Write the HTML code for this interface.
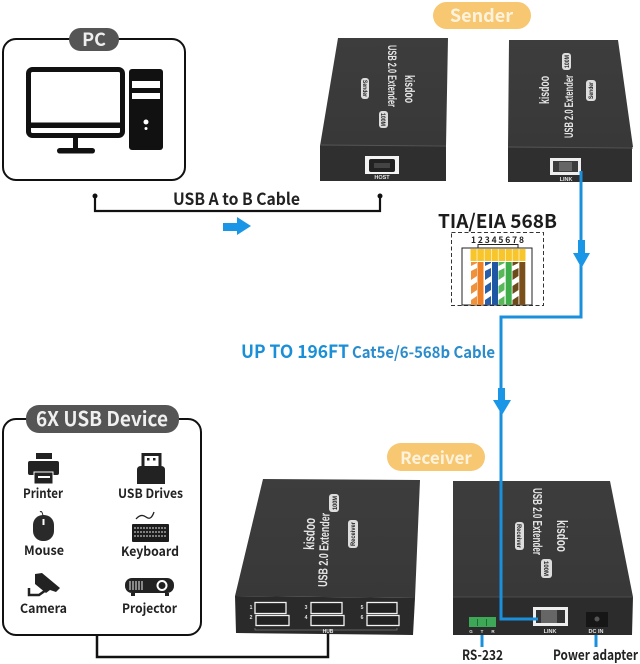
<!DOCTYPE html>
<html><head><meta charset="utf-8"><style>
html,body{margin:0;padding:0;background:#fff}
svg{display:block}
text{font-family:"Noto Sans CJK SC","Liberation Sans",sans-serif;font-weight:700}
.l{font-family:"Liberation Sans",sans-serif;fill:#e6e6e6}
.t{font-family:"Liberation Sans",sans-serif;fill:#222;font-size:6px}
.lab{fill:#222;font-size:13px;text-anchor:middle}
</style></head><body>
<svg width="640" height="664" viewBox="0 0 640 664" xmlns="http://www.w3.org/2000/svg">
<defs>
<linearGradient id="top" x1="0" y1="0" x2="0" y2="1"><stop offset="0" stop-color="#3d3d3d"/><stop offset="1" stop-color="#383838"/></linearGradient>
</defs>
<rect width="640" height="664" fill="#fff"/>

<!-- PC panel -->
<rect x="3" y="39" width="182" height="141" rx="13" fill="#fff" stroke="#111" stroke-width="2"/>
<rect x="69" y="28" width="50" height="23" rx="11.5" fill="#555"/>
<text x="94" y="46" font-size="18" fill="#eee" text-anchor="middle">PC</text>
<rect x="28.500" y="69.500" width="94" height="66" rx="4" fill="#fff" stroke="#111" stroke-width="5"/>
<rect x="29" y="122.500" width="92" height="5.500" fill="#111"/>
<rect x="73" y="137" width="5" height="12" fill="#111"/>
<rect x="57" y="148" width="38" height="5.500" rx="2.700" fill="#111"/>
<rect x="129" y="69" width="34" height="81" rx="3" fill="#111"/>
<rect x="132" y="81" width="28" height="7" fill="#fff"/>
<rect x="132" y="93" width="28" height="6" fill="#fff"/>
<circle cx="146" cy="122" r="2.500" fill="#fff"/>
<circle cx="146" cy="128.500" r="1.500" fill="#fff"/>

<!-- USB A to B cable -->
<circle cx="95" cy="196" r="2.500" fill="#111"/>
<circle cx="380" cy="196" r="2.500" fill="#111"/>
<path d="M95 196V211H380V196" fill="none" stroke="#111" stroke-width="2.200"/>
<text x="173" y="205" font-size="16.500" fill="#222" textLength="127" lengthAdjust="spacingAndGlyphs">USB A to B Cable</text>
<path d="M223 223H237V217L251 226L237 235V231H223Z" fill="#1a96e6"/>

<!-- Sender pill -->
<rect x="433" y="2" width="98" height="27" rx="13.500" fill="#f7c772"/>
<text x="481.500" y="22" font-size="18" fill="#fdf3dd" text-anchor="middle">Sender</text>

<!-- Sender box 1 -->
<path d="M338 38H448L446 146H320Z" fill="url(#top)"/>
<path d="M320 145H446V181H320Z" fill="#2f2f2f"/>
<line x1="320" y1="145" x2="446" y2="146" stroke="#555" stroke-width="1"/>
<text class="l" transform="translate(388,45) rotate(90)" font-size="12" textLength="62" lengthAdjust="spacingAndGlyphs">USB 2.0 Extender</text>
<text class="l" transform="translate(405,75) rotate(90)" font-size="14" textLength="28" lengthAdjust="spacingAndGlyphs">kisdoo</text>
<rect x="361" y="78" width="8" height="21" rx="3" fill="#ddd"/>
<text class="t" transform="translate(363,80) rotate(90)" textLength="17" lengthAdjust="spacingAndGlyphs">Sender</text>
<rect x="379" y="111" width="9" height="17" rx="3" fill="#ddd"/>
<text class="t" transform="translate(381,113) rotate(90)" textLength="13" lengthAdjust="spacingAndGlyphs">100M</text>
<rect x="365" y="156" width="34" height="18" fill="#f4f4f4"/>
<rect x="369" y="159" width="26" height="13" rx="2" fill="#222"/>
<rect x="374" y="163" width="16" height="5" fill="#444"/>
<text class="l" x="382" y="179" font-size="5.500" text-anchor="middle">HOST</text>

<!-- Sender box 2 -->
<path d="M509 40H618L633 147H508Z" fill="url(#top)"/>
<path d="M508 147H632V182H508Z" fill="#2f2f2f"/>
<line x1="508" y1="147" x2="633" y2="148" stroke="#555" stroke-width="1"/>
<text class="l" transform="translate(573,138) rotate(-90)" font-size="12" textLength="63" lengthAdjust="spacingAndGlyphs">USB 2.0 Extender</text>
<text class="l" transform="translate(549,104) rotate(-90)" font-size="14" textLength="28" lengthAdjust="spacingAndGlyphs">kisdoo</text>
<rect x="562" y="53" width="9" height="17" rx="3" fill="#ddd"/>
<text class="t" transform="translate(569,68) rotate(-90)" textLength="13" lengthAdjust="spacingAndGlyphs">100M</text>
<rect x="586" y="80" width="10" height="21" rx="3" fill="#ddd"/>
<text class="t" transform="translate(593,99) rotate(-90)" textLength="17" lengthAdjust="spacingAndGlyphs">Sender</text>
<rect x="550" y="158" width="31" height="17" fill="#eee"/>
<rect x="553" y="161" width="25" height="11" fill="#3c3c3c"/>
<rect x="559" y="162" width="13" height="9" fill="#666"/>
<text class="l" x="566" y="181" font-size="5.500" text-anchor="middle">LINK</text>

<!-- Blue cable -->
<path d="M581 171V317H501V470" fill="none" stroke="#1a90dc" stroke-width="3"/>
<path d="M573 253H590L581.500 268Z" fill="#1a96e6"/>
<rect x="578" y="240" width="7" height="14" fill="#1a96e6"/>
<path d="M493 400H511L502 415Z" fill="#1a96e6"/>
<rect x="498" y="388" width="7" height="13" fill="#1a96e6"/>

<!-- TIA -->
<text x="438" y="228" font-size="19" fill="#1c1c1c" textLength="119" lengthAdjust="spacingAndGlyphs">TIA/EIA 568B</text>
<rect x="451.500" y="232.500" width="92" height="73" fill="none" stroke="#333" stroke-width="1" stroke-dasharray="4 2.500"/>
<text x="471" y="243" font-size="8.500" fill="#222" textLength="53">12345678</text>
<path d="M478 248V244.500H518V248" fill="none" stroke="#222" stroke-width="1"/>
<rect x="462" y="248" width="70" height="57" fill="#fff" stroke="#222" stroke-width="1"/>
<g fill="#f8c62b">
<rect x="470.500" y="249" width="6.200" height="12"/><rect x="477.300" y="249" width="6.600" height="12"/><rect x="484.500" y="249" width="6.600" height="12"/><rect x="491.700" y="249" width="6.200" height="12"/><rect x="498.500" y="249" width="6.600" height="12"/><rect x="505.700" y="249" width="6.200" height="12"/><rect x="512.500" y="249" width="6.200" height="12"/><rect x="519.300" y="249" width="6.200" height="12"/>
</g>
<rect x="471" y="262" width="6" height="43" fill="#f0913b"/>
<path d="M471 266l6-3v5l-6 3zM471 280l6-4v6l-6 4zM471 294l6-4v6l-6 4z" fill="#fff"/>
<rect x="477.500" y="262" width="6" height="43" fill="#ef7f24"/>
<rect x="485" y="262" width="6" height="43" fill="#2a5ea8"/>
<path d="M485 266l6-3v5l-6 3zM485 280l6-4v6l-6 4zM485 294l6-4v6l-6 4z" fill="#fff"/>
<rect x="492" y="262" width="6" height="43" fill="#1f57a5"/>
<rect x="498.500" y="262" width="6" height="43" fill="#59b85a"/>
<path d="M498.500 266l6-3v5l-6 3zM498.500 280l6-4v6l-6 4zM498.500 294l6-4v6l-6 4z" fill="#fff"/>
<rect x="505.700" y="262" width="6" height="43" fill="#3fae4a"/>
<rect x="512.500" y="262" width="6" height="43" fill="#6b4a1c"/>
<path d="M512.500 266l6-3v5l-6 3zM512.500 280l6-4v6l-6 4zM512.500 294l6-4v6l-6 4z" fill="#fff"/>
<rect x="519.300" y="262" width="6" height="43" fill="#7a4f1a"/>

<!-- UP TO label -->
<text x="241" y="358" font-size="18" fill="#1a8fd8" textLength="108" lengthAdjust="spacingAndGlyphs">UP TO 196FT</text>
<text x="352" y="358" font-size="16" fill="#2a8ccc" textLength="143" lengthAdjust="spacingAndGlyphs">Cat5e/6-568b Cable</text>

<!-- Device panel -->
<rect x="3" y="419" width="198" height="216" rx="13" fill="#fff" stroke="#111" stroke-width="2"/>
<rect x="26" y="405" width="153" height="28" rx="13" fill="#555"/>
<text x="36" y="426" font-size="20" fill="#f0f0f0" textLength="132" lengthAdjust="spacingAndGlyphs">6X USB Device</text>

<!-- printer -->
<rect x="36" y="453" width="16" height="6" fill="#222"/>
<rect x="28" y="461" width="31" height="14" rx="2" fill="#222"/>
<rect x="34" y="472" width="19" height="12" fill="#222" stroke="#fff" stroke-width="1"/>
<rect x="38" y="476" width="12" height="2" fill="#fff"/>
<text class="lab" x="23" y="498" style="text-anchor:start" textLength="40" lengthAdjust="spacingAndGlyphs">Printer</text>
<!-- usb drive -->
<rect x="143" y="454.500" width="17" height="13" fill="#fff" stroke="#222" stroke-width="3"/>
<rect x="147" y="458" width="2.500" height="2.500" fill="#222"/><rect x="153" y="458" width="2.500" height="2.500" fill="#222"/>
<path d="M137 470Q137 466 141 466H161Q165 466 165 470V484H137Z" fill="#222"/>
<text class="lab" x="118" y="498" style="text-anchor:start" textLength="65" lengthAdjust="spacingAndGlyphs">USB Drives</text>
<!-- mouse -->
<path d="M40 512Q42 510 43 516" fill="none" stroke="#222" stroke-width="1"/>
<rect x="33" y="515" width="21" height="26" rx="10" fill="#2a2a2a"/>
<rect x="42.500" y="519" width="2" height="6" fill="#fff"/>
<text class="lab" x="24" y="555" style="text-anchor:start" textLength="40" lengthAdjust="spacingAndGlyphs">Mouse</text>
<!-- keyboard -->
<path d="M136 519Q141 513 146 517T154 512" fill="none" stroke="#222" stroke-width="1.300"/>
<rect x="132" y="524" width="37" height="18" rx="1" fill="#1c1c1c"/>
<path d="M134 528H167M134 532H167M134 536H167" stroke="#bbb" stroke-width="1.300" stroke-dasharray="2 1"/>
<text class="lab" x="121" y="556" style="text-anchor:start" textLength="58" lengthAdjust="spacingAndGlyphs">Keyboard</text>
<!-- camera -->
<path d="M35 574L42 573L60 588L56 592L50 590L46 593L35 584Z" fill="#222"/>
<path d="M29 588V595H39L46 590" fill="none" stroke="#222" stroke-width="2.500"/>
<text class="lab" x="20" y="613" style="text-anchor:start" textLength="47" lengthAdjust="spacingAndGlyphs">Camera</text>
<!-- projector -->
<rect x="125" y="578" width="49" height="15" rx="7" fill="#222"/>
<path d="M130 581v9M133 581v9M136 581v9M139 581v9M142 581v9" stroke="#eee" stroke-width="1"/>
<circle cx="162" cy="585.500" r="4.500" fill="#222" stroke="#fff" stroke-width="2"/>
<rect x="131" y="593" width="4" height="3" fill="#222"/><rect x="165" y="593" width="4" height="3" fill="#222"/>
<text class="lab" x="122" y="613" style="text-anchor:start" textLength="55" lengthAdjust="spacingAndGlyphs">Projector</text>

<!-- black device cable -->
<path d="M97 636V657H328V632" fill="none" stroke="#111" stroke-width="2.500"/>

<!-- Receiver pill -->
<rect x="387" y="443" width="98" height="28" rx="14" fill="#f7c772"/>
<text x="436" y="464" font-size="17" fill="#fdf3dd" text-anchor="middle">Receiver</text>

<!-- Receiver left -->
<path d="M263 479L420 480L415 598L235 596Z" fill="url(#top)"/>
<path d="M235 596L415 598L413 635L236 633Z" fill="#2a2a2a"/>
<text class="l" transform="translate(327,587) rotate(-88)" font-size="13" textLength="74" lengthAdjust="spacingAndGlyphs">USB 2.0 Extender</text>
<text class="l" transform="translate(314,550) rotate(-88)" font-size="15" textLength="32" lengthAdjust="spacingAndGlyphs">kisdoo</text>
<rect x="329" y="494" width="10" height="18" rx="3" fill="#ddd"/>
<text class="t" transform="translate(337,510) rotate(-90)" textLength="14" lengthAdjust="spacingAndGlyphs">100M</text>
<rect x="348" y="520" width="10" height="28" rx="3" fill="#ddd"/>
<text class="t" transform="translate(355,546) rotate(-90)" textLength="24" lengthAdjust="spacingAndGlyphs">Receiver</text>
<g fill="#222" stroke="#f2f2f2" stroke-width="1.300">
<rect x="255" y="602.500" width="31" height="11"/><rect x="256" y="615.500" width="33" height="10"/>
<rect x="311" y="602.500" width="31" height="11"/><rect x="311" y="615.500" width="33" height="10"/>
<rect x="367" y="602.500" width="30" height="11"/><rect x="367" y="615.500" width="32" height="10"/>
</g>
<path d="M255 628V630H397V628" fill="none" stroke="#777" stroke-width="0.800"/>
<text class="l" x="328" y="633" font-size="5" text-anchor="middle">HUB</text>
<g class="l" font-size="5" text-anchor="middle">
<text class="l" x="251" y="609">1</text><text class="l" x="251" y="619">2</text>
<text class="l" x="306" y="609">3</text><text class="l" x="306" y="619">4</text>
<text class="l" x="362" y="609">5</text><text class="l" x="362" y="619">6</text>
</g>

<!-- Receiver right -->
<path d="M453 481H610L633 597H453Z" fill="url(#top)"/>
<path d="M453 597H633L632 635H453Z" fill="#2c2c2c"/>
<line x1="453" y1="597" x2="633" y2="597" stroke="#4c4c4c" stroke-width="1"/>
<text class="l" transform="translate(533,488) rotate(90)" font-size="13" textLength="67" lengthAdjust="spacingAndGlyphs">USB 2.0 Extender</text>
<text class="l" transform="translate(557,520) rotate(90)" font-size="15" textLength="32" lengthAdjust="spacingAndGlyphs">kisdoo</text>
<rect x="515" y="522" width="9" height="28" rx="3" fill="#ddd"/>
<text class="t" transform="translate(517,524) rotate(90)" textLength="24" lengthAdjust="spacingAndGlyphs">Receiver</text>
<rect x="541" y="559" width="11" height="19" rx="3" fill="#ddd"/>
<text class="t" transform="translate(544,561) rotate(90)" textLength="15" lengthAdjust="spacingAndGlyphs">100M</text>
<rect x="533" y="607" width="35" height="19" fill="#eee"/>
<rect x="536" y="610" width="29" height="13" fill="#333"/>
<rect x="541" y="610" width="16" height="13" fill="#666"/>
<rect x="469" y="617" width="27" height="10" fill="#3da856"/>
<rect x="477" y="619" width="1" height="7" fill="#1f6d36"/><rect x="486" y="619" width="1" height="7" fill="#1f6d36"/>
<rect x="586" y="612" width="22" height="15" fill="#161616"/>
<circle cx="597" cy="619" r="2.500" fill="#555"/>
<text class="l" x="550" y="633" font-size="5.500" text-anchor="middle">LINK</text>
<text class="l" x="596" y="633" font-size="5.500" text-anchor="middle">DC IN</text>
<text class="l" x="471" y="633" font-size="4.500" text-anchor="middle">G</text>
<text class="l" x="482" y="633" font-size="4.500" text-anchor="middle">T</text>
<text class="l" x="493" y="633" font-size="4.500" text-anchor="middle">R</text>

<!-- Blue cable over box -->
<path d="M501 470V619H538" fill="none" stroke="#1a90dc" stroke-width="3"/>

<!-- short blue connectors -->
<path d="M482 635V647" stroke="#1a90dc" stroke-width="3"/>
<path d="M596 635V647" stroke="#1a90dc" stroke-width="3"/>
<text x="462" y="660" font-size="14" fill="#222" textLength="41" lengthAdjust="spacingAndGlyphs">RS-232</text>
<text x="553" y="660" font-size="14" fill="#222" textLength="85" lengthAdjust="spacingAndGlyphs">Power adapter</text>
</svg>
</body></html>
